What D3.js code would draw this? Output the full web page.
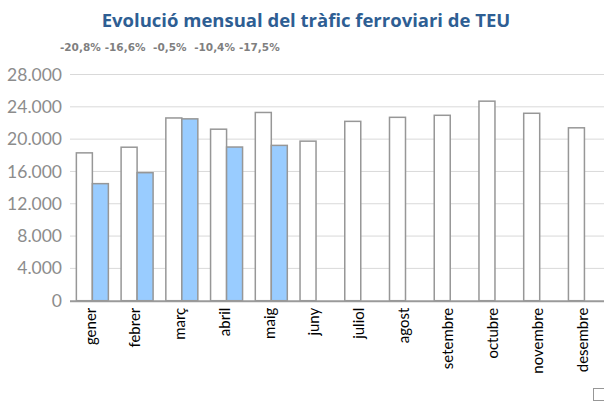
<!DOCTYPE html>
<html>
<head>
<meta charset="utf-8">
<script src="https://cdn.jsdelivr.net/npm/d3@7"></script>
<style>
  html, body { margin: 0; padding: 0; background: #ffffff; overflow: hidden; }
  svg { display: block; }
</style>
</head>
<body>
<svg id="chart" width="604" height="403"></svg>
<script>
// Monthly rail container traffic (TEU): previous year vs current year
const months = ["gener", "febrer", "març", "abril", "maig", "juny", "juliol",
                "agost", "setembre", "octubre", "novembre", "desembre"];
const previousYear = [18300, 19000, 22620, 21230, 23300, 19750, 22200,
                      22700, 22950, 24700, 23200, 21400];
const currentYear = [14490, 15846, 22510, 19022, 19225];
const yTicks = [0, 4000, 8000, 12000, 16000, 20000, 24000, 28000];

const svg = d3.select("#chart");
const bodyFont = "Lato, 'Open Sans', sans-serif";
const titleFont = "'Open Sans', 'DejaVu Sans', sans-serif";
const noteFont = "'DejaVu Sans', sans-serif";

const plot = { left: 70, right: 606.8, top: 74.5, bottom: 300.7 };

const x = d3.scaleBand()
  .domain(months)
  .range([plot.left, plot.right])
  .paddingInner(0.2846)
  .paddingOuter(0.1423);

const xSeries = d3.scaleBand()
  .domain(["prev", "curr"])
  .range([0, x.bandwidth()]);

const y = d3.scaleLinear()
  .domain([0, 28000])
  .range([plot.bottom, plot.top]);

const locale = d3.formatLocale({ decimal: ",", thousands: ".", grouping: [3], currency: ["", "€"], minus: "-" });
const fmtTick = locale.format(",.0f");
const fmtPct = locale.format(".1f");

// Title
svg.append("text")
  .attr("x", 306)
  .attr("y", 27)
  .attr("text-anchor", "middle")
  .attr("font-family", titleFont)
  .attr("font-weight", "bold")
  .attr("font-size", 18.5)
  .attr("fill", "#2e5e93")
  .text("Evolució mensual del tràfic ferroviari de TEU");

// Horizontal gridlines
svg.append("g")
  .selectAll("line")
  .data(yTicks.filter(d => d > 0))
  .join("line")
  .attr("x1", plot.left)
  .attr("x2", 604)
  .attr("y1", d => y(d))
  .attr("y2", d => y(d))
  .attr("stroke", "#d9d9d9")
  .attr("stroke-width", 1);

// Y axis labels
const yAxis = d3.axisLeft(y).tickValues(yTicks).tickFormat(fmtTick).tickSize(0).tickPadding(8);
const yG = svg.append("g")
  .attr("transform", `translate(${plot.left},0)`)
  .call(yAxis);
yG.select(".domain").remove();
yG.selectAll("text")
  .attr("font-family", bodyFont)
  .attr("font-size", 17.5)
  .attr("fill", "#8c8c8c");

// Bars
const groups = svg.append("g")
  .selectAll("g")
  .data(months)
  .join("g")
  .attr("transform", d => `translate(${x(d)},0)`);

groups.append("rect")
  .attr("x", xSeries("prev"))
  .attr("width", xSeries.bandwidth())
  .attr("y", (d, i) => y(previousYear[i]))
  .attr("height", (d, i) => y(0) - y(previousYear[i]))
  .attr("fill", "#ffffff")
  .attr("stroke", "#979797")
  .attr("stroke-width", 1.5);

groups.filter((d, i) => currentYear[i] !== undefined)
  .append("rect")
  .attr("x", xSeries("curr"))
  .attr("width", xSeries.bandwidth())
  .attr("y", d => y(currentYear[months.indexOf(d)]))
  .attr("height", d => y(0) - y(currentYear[months.indexOf(d)]))
  .attr("fill", "#99ccff")
  .attr("stroke", "#979797")
  .attr("stroke-width", 1.5);

// Baseline
svg.append("line")
  .attr("x1", plot.left)
  .attr("x2", 604)
  .attr("y1", y(0) + 0.5)
  .attr("y2", y(0) + 0.5)
  .attr("stroke", "#9a9a9a")
  .attr("stroke-width", 2);

// Month labels, rotated
const xAxis = d3.axisBottom(x).tickSize(0);
const xG = svg.append("g")
  .attr("transform", `translate(0,${plot.bottom})`)
  .call(xAxis);
xG.select(".domain").remove();
xG.selectAll("text")
  .attr("font-family", bodyFont)
  .attr("font-size", 15)
  .attr("fill", "#000000")
  .attr("text-anchor", "end")
  .attr("transform", "rotate(-90)")
  .attr("x", -7)
  .attr("y", -2)
  .attr("dy", "0.35em");

// Year-on-year change labels
svg.append("g")
  .selectAll("text")
  .data(currentYear)
  .join("text")
  .attr("x", (d, i) => x(months[i]) + x.bandwidth() * 0.125)
  .attr("y", 51)
  .attr("text-anchor", "middle")
  .attr("font-family", noteFont)
  .attr("font-weight", "bold")
  .attr("font-size", 10.5)
  .attr("fill", "#7f7f7f")
  .text((d, i) => fmtPct((d / previousYear[i] - 1) * 100) + "%");

// Legend swatch (partially outside the visible area)
svg.append("rect")
  .attr("x", 593.5)
  .attr("y", 388.5)
  .attr("width", 12)
  .attr("height", 12)
  .attr("fill", "#ffffff")
  .attr("stroke", "#979797")
  .attr("stroke-width", 1);
</script>
</body>
</html>
